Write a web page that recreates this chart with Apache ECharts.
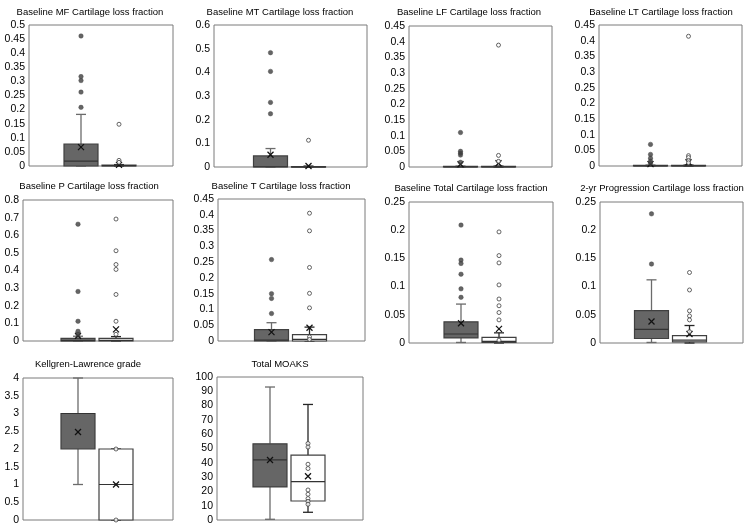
<!DOCTYPE html>
<html>
<head>
<meta charset="utf-8">
<script src="https://cdn.jsdelivr.net/npm/echarts@6/dist/echarts.min.js"></script>
<style>
  html, body { margin: 0; padding: 0; background: #fff; }
  #main { width: 750px; height: 530px; }
</style>
</head>
<body>
<div id="main"></div>
<script>
var myChart = echarts.init(document.getElementById('main'));

var titles = [
    'Baseline MF Cartilage loss fraction',
    'Baseline MT Cartilage loss fraction',
    'Baseline LF Cartilage loss fraction',
    'Baseline LT Cartilage loss fraction',
    'Baseline P Cartilage loss fraction',
    'Baseline T Cartilage loss fraction',
    'Baseline Total Cartilage loss fraction',
    '2-yr Progression Cartilage loss fraction',
    'Kellgren-Lawrence grade',
    'Total MOAKS'
];
var yMax  = [0.5, 0.6, 0.45, 0.45, 0.8, 0.45, 0.25, 0.25, 4, 100];
var yStep = [0.05, 0.1, 0.05, 0.05, 0.1, 0.05, 0.05, 0.05, 0.5, 10];

// [low whisker, Q1, median, Q3, high whisker] for dark group, white group
var mfStats    = [[0, 0, 0.017, 0.078, 0.183], [0, 0, 0.001, 0.003, 0.005]];
var mtStats    = [[0, 0, 0.001, 0.047, 0.078], [0, 0, 0, 0.002, 0.004]];
var lfStats    = [[0, 0, 0, 0.002, 0.003], [0, 0, 0, 0.002, 0.003]];
var ltStats    = [[0, 0, 0, 0.002, 0.003], [0, 0, 0, 0.002, 0.003]];
var pStats     = [[0, 0, 0.002, 0.015, 0.027], [0, 0, 0.003, 0.015, 0.025]];
var tStats     = [[0, 0, 0.003, 0.036, 0.058], [0, 0, 0.005, 0.020, 0.044]];
var totalStats = [[0.001, 0.009, 0.016, 0.0376, 0.069], [0, 0.001, 0.003, 0.010, 0.018]];
var progStats  = [[0.001, 0.008, 0.024, 0.0575, 0.112], [0, 0.002, 0.005, 0.013, 0.031]];
var klStats    = [[1, 2, 3, 3, 4], [0, 0, 1, 2, 2]];
var moaksStats = [[0.5, 23.1, 42, 53.3, 93], [5.4, 13.3, 26.9, 45.3, 80.8]];

// means (x marks)
var mfMeans = [0.067, 0.004];
var mtMeans = [0.052, 0.004];
var lfMeans = [0.009, 0.012];
var ltMeans = [0.006, 0.012];
var pMeans = [0.03, 0.066];
var tMeans = [0.028, 0.042];
var totalMeans = [0.035, 0.025];
var progMeans = [0.038, 0.016];
var klMeans = [2.48, 1.0];
var moaksMeans = [42, 30.6];

// outliers / shown points
var mfPoints = [[0.461, 0.317, 0.303, 0.262, 0.208], [0.148, 0.02, 0.013]];
var mtPoints = [[0.483, 0.404, 0.273, 0.225], [0.113]];
var lfPoints = [[0.110, 0.050, 0.044, 0.038, 0.015], [0.389, 0.037, 0.018]];
var ltPoints = [[0.069, 0.037, 0.025, 0.015, 0.009], [0.414, 0.033, 0.027, 0.017, 0.010]];
var pPoints = [[0.663, 0.281, 0.112, 0.055, 0.038], [0.692, 0.512, 0.434, 0.406, 0.264, 0.112, 0.038]];
var tPoints = [[0.258, 0.150, 0.135, 0.087], [0.405, 0.349, 0.233, 0.151, 0.105, 0.013, 0.005]];
var totalPoints = [[0.209, 0.147, 0.141, 0.122, 0.096, 0.081], [0.197, 0.155, 0.142, 0.103, 0.078, 0.066, 0.054, 0.041, 0.005]];
var progPoints = [[0.229, 0.140], [0.125, 0.094, 0.057, 0.048, 0.041, 0.020]];
var klPoints = [[], [2, 0]];
var moaksPoints = [[], [53.5, 51, 39, 36, 21, 18, 15, 13, 11]];

var allStats = [mfStats, mtStats, lfStats, ltStats, pStats, tStats, totalStats, progStats, klStats, moaksStats];
var allMeans = [mfMeans, mtMeans, lfMeans, ltMeans, pMeans, tMeans, totalMeans, progMeans, klMeans, moaksMeans];
var allPoints = [mfPoints, mtPoints, lfPoints, ltPoints, pPoints, tPoints, totalPoints, progPoints, klPoints, moaksPoints];

// plot areas [left, top, width, height] and title centres
var boxes = [
    [29, 25, 144, 141], [214, 25, 153, 142], [409, 26, 143, 141], [599, 25, 143, 141],
    [23, 200, 150, 141], [218, 199, 147, 142], [409, 202, 144, 141], [600, 202, 143, 141],
    [23, 378, 150, 142], [217, 377, 146, 143]
];
var titlePos = [
    [90, 12], [280, 12], [469, 12], [661, 12],
    [89, 186], [281, 186], [471, 188], [662, 188],
    [88, 364], [280, 364]
];

var font = 'Liberation Sans, Arial, sans-serif';
var offsets = [-20, 18];
var boxW = 34, capW = 10;
var boxFill = ['#666666', '#ffffff'];
var whiskerColor = ['#6b6b6b', '#262626'];

function renderBox(params, api) {
    var g = api.value(7);
    var cx = api.coord([0, 0])[0] + offsets[g];
    var y = function (i) { return api.coord([0, api.value(i)])[1]; };
    var yLo = y(1), yQ1 = y(2), yMed = y(3), yQ3 = y(4), yHi = y(5), yMean = y(6);
    var wStyle = { stroke: whiskerColor[g], lineWidth: 1.3 };
    var kids = [
        { type: 'line', shape: { x1: cx, y1: yQ1, x2: cx, y2: yLo }, style: wStyle },
        { type: 'line', shape: { x1: cx, y1: yQ3, x2: cx, y2: yHi }, style: wStyle },
        { type: 'line', shape: { x1: cx - capW / 2, y1: yLo, x2: cx + capW / 2, y2: yLo }, style: wStyle },
        { type: 'line', shape: { x1: cx - capW / 2, y1: yHi, x2: cx + capW / 2, y2: yHi }, style: wStyle },
        { type: 'rect', shape: { x: cx - boxW / 2, y: yQ3, width: boxW, height: Math.max(yQ1 - yQ3, 0.5) },
          style: { fill: boxFill[g], stroke: '#404040', lineWidth: 1.2 } },
        { type: 'line', shape: { x1: cx - boxW / 2, y1: yMed, x2: cx + boxW / 2, y2: yMed },
          style: { stroke: '#333333', lineWidth: 1.2 } },
        { type: 'line', shape: { x1: cx - 3, y1: yMean - 3, x2: cx + 3, y2: yMean + 3 },
          style: { stroke: '#111', lineWidth: 1.3 } },
        { type: 'line', shape: { x1: cx - 3, y1: yMean + 3, x2: cx + 3, y2: yMean - 3 },
          style: { stroke: '#111', lineWidth: 1.3 } }
    ];
    return { type: 'group', children: kids };
}

var grids = [], xAxes = [], yAxes = [], series = [], graphics = [];

for (var p = 0; p < titles.length; p++) {
    var b = boxes[p];
    grids.push({
        left: b[0], top: b[1], width: b[2], height: b[3],
        show: true, borderColor: '#7a7a7a', borderWidth: 1, backgroundColor: '#fff'
    });
    xAxes.push({
        gridIndex: p, type: 'category', data: [''],
        axisLine: { show: false }, axisTick: { show: false }, axisLabel: { show: false }
    });
    yAxes.push({
        gridIndex: p, type: 'value', min: 0, max: yMax[p], interval: yStep[p],
        axisLine: { show: false }, axisTick: { show: false }, splitLine: { show: false },
        axisLabel: { color: '#000', fontSize: 10.5, fontFamily: font, margin: 4 }
    });

    var boxData = [];
    for (var g = 0; g < 2; g++) {
        var s = allStats[p][g];
        boxData.push([0, s[0], s[1], s[2], s[3], s[4], allMeans[p][g], g]);
    }
    series.push({
        type: 'custom', xAxisIndex: p, yAxisIndex: p,
        renderItem: renderBox, data: boxData,
        encode: { x: 0, y: [1, 2, 3, 4, 5, 6] }, z: 2
    });

    for (var g2 = 0; g2 < 2; g2++) {
        series.push({
            type: 'scatter', xAxisIndex: p, yAxisIndex: p,
            symbol: 'circle', symbolSize: g2 === 0 ? 4.5 : 4, symbolOffset: [offsets[g2], 0],
            data: allPoints[p][g2].map(function (v) { return [0, v]; }),
            itemStyle: g2 === 0
                ? { color: '#3f3f3f', borderColor: '#3f3f3f', borderWidth: 0.5 }
                : { color: '#ffffff', borderColor: '#404040', borderWidth: 1 },
            z: 3, silent: true
        });
    }

    graphics.push({
        type: 'text', x: titlePos[p][0], y: titlePos[p][1],
        style: { text: titles[p], fill: '#000', font: '9.5px ' + font,
                 textAlign: 'center', textVerticalAlign: 'middle' }
    });
}

var option = {
    animation: false,
    backgroundColor: '#fff',
    grid: grids,
    xAxis: xAxes,
    yAxis: yAxes,
    series: series,
    graphic: graphics
};

myChart.setOption(option);
</script>
</body>
</html>
